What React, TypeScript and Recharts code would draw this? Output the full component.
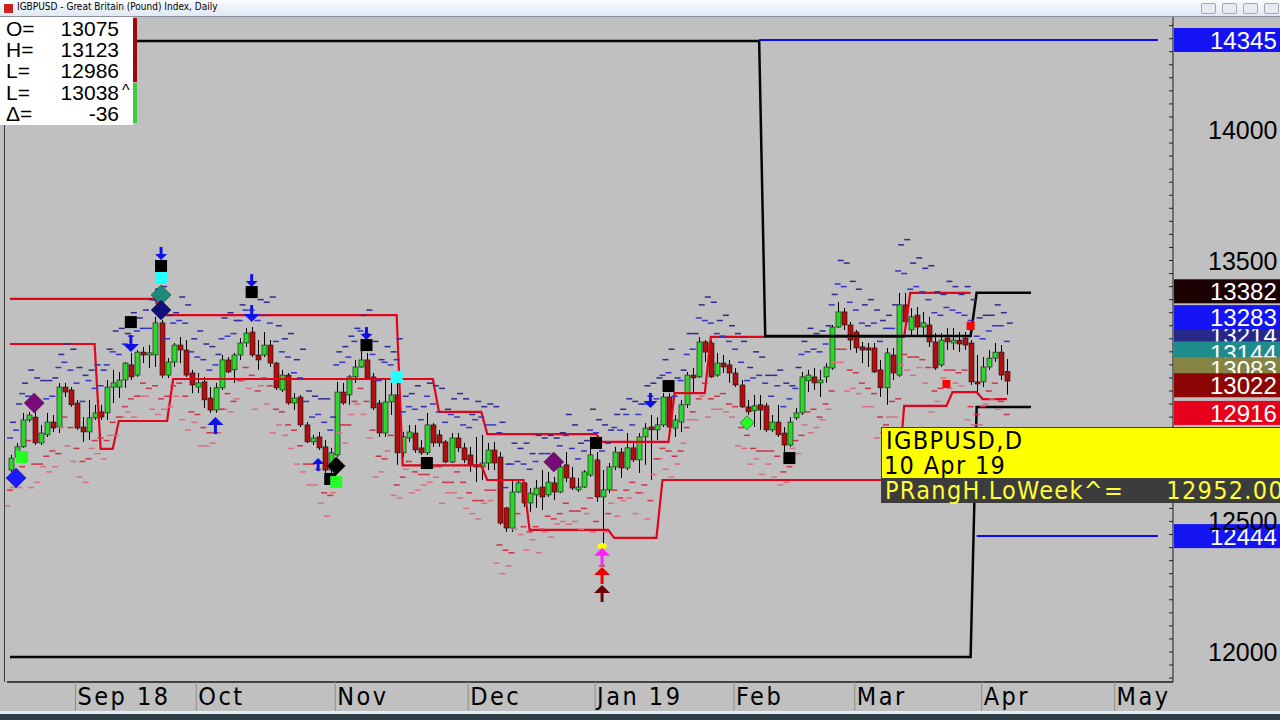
import React from 'react';
import { ComposedChart, Bar, Line, XAxis, YAxis, ReferenceDot, ReferenceLine } from 'recharts';

// trading days on the category axis, grouped by month
const monthDays: [string, number[]][] = [
  ['2018-08', [17, 20, 21, 22, 23, 24, 27, 28, 29, 30, 31]],
  ['2018-09', [3, 4, 5, 6, 7, 10, 11, 12, 13, 14, 17, 18, 19, 20, 21, 24, 25, 26, 27, 28]],
  ['2018-10', [1, 2, 3, 4, 5, 8, 9, 10, 11, 12, 15, 16, 17, 18, 19, 22, 23, 24, 25, 26, 29, 30, 31]],
  ['2018-11', [1, 2, 5, 6, 7, 8, 9, 12, 13, 14, 15, 16, 19, 20, 21, 22, 23, 26, 27, 28, 29, 30]],
  ['2018-12', [3, 4, 5, 6, 7, 10, 11, 12, 13, 14, 17, 18, 19, 20, 21, 24, 25, 26, 27, 28, 31]],
  ['2019-01', [1, 2, 3, 4, 7, 8, 9, 10, 11, 14, 15, 16, 17, 18, 21, 22, 23, 24, 25, 28, 29, 30, 31]],
  ['2019-02', [1, 4, 5, 6, 7, 8, 11, 12, 13, 14, 15, 18, 19, 20, 21, 22, 25, 26, 27, 28]],
  ['2019-03', [1, 4, 5, 6, 7, 8, 11, 12, 13, 14, 15, 18, 19, 20, 21, 22, 25, 26, 27, 28, 29]],
  ['2019-04', [1, 2, 3, 4, 5, 8, 9, 10, 11, 12, 15, 16, 17, 18, 19, 22, 23, 24, 25, 26, 29, 30]],
  ['2019-05', [1, 2, 3, 6, 7, 8, 9, 10, 13, 14]],
];

const monthTicks = ['2018-09-03', '2018-10-01', '2018-11-01', '2018-12-03', '2019-01-01', '2019-02-01', '2019-03-01', '2019-04-01', '2019-05-01'];
const monthLabels = ['Sep 18', 'Oct', 'Nov', 'Dec', 'Jan 19', 'Feb', 'Mar', 'Apr', 'May'];
const priceLabels = [12000, 12500, 13500, 14000];

// daily candles (price x 10000), first bar 17 Aug 2018
const opens = [
  12697, 12747, 12786, 12889, 12900, 12801, 12832, 12881, 12862, 13015,
  13004, 12954, 12862, 12843, 12897, 12920, 12916, 13015, 13015, 13042,
  13100, 13061, 13149, 13138, 13138, 13261, 13061, 13111, 13176, 13157,
  13069, 13015, 13035, 12973, 12927, 13012, 13119, 13081, 13138, 13184,
  13226, 13138, 13138, 13176, 13107, 13004, 13061, 12954, 12977, 12870,
  12805, 12824, 12786, 12697, 12755, 12996, 12985, 13054, 13092, 13119,
  13054, 12954, 12839, 12958, 12985, 12763, 12820, 12839, 12782, 12763,
  12870, 12832, 12805, 12728, 12820, 12782, 12755, 12717, 12709, 12724,
  12774, 12747, 12552, 12475, 12613, 12648, 12571, 12602, 12632, 12602,
  12648, 12613, 12717, 12667, 12621, 12632, 12678, 12736, 12594, 12621,
  12709, 12766, 12705, 12782, 12736, 12824, 12862, 12851, 12870, 12977,
  12858, 12881, 12947, 13061, 13054, 13188, 13184, 13061, 13107, 13100,
  13069, 13023, 12939, 12924, 12947, 12943, 12851, 12881, 12839, 12793,
  12897, 12916, 13039, 13054, 13031, 13054, 13088, 13245, 13303, 13253,
  13226, 13169, 13165, 13165, 13081, 13012, 13138, 13061, 13330, 13234,
  13291, 13245, 13253, 13188, 13100, 13203, 13184, 13195, 13203, 13184,
  13035, 13035, 13092, 13126, 13149, 13075,
];
const highs = [
  12755, 12801, 12916, 12920, 12920, 12870, 12916, 12908, 13031, 13031,
  13015, 12966, 12900, 12966, 12947, 12947, 13042, 13081, 13073, 13111,
  13146, 13157, 13169, 13176, 13284, 13272, 13126, 13184, 13207, 13195,
  13081, 13069, 13054, 13015, 13031, 13138, 13130, 13146, 13203, 13241,
  13245, 13195, 13226, 13195, 13111, 13081, 13069, 12992, 12985, 12881,
  12832, 12843, 12812, 12782, 13035, 13031, 13061, 13119, 13157, 13146,
  13069, 12966, 13042, 13035, 13042, 12843, 12870, 12870, 12812, 12916,
  12877, 12851, 12812, 12839, 12839, 12801, 12786, 12824, 12832, 12801,
  12805, 12766, 12556, 12659, 12659, 12651, 12628, 12659, 12697, 12690,
  12671, 12717, 12766, 12709, 12667, 12697, 12782, 12766, 12697, 12724,
  12786, 12782, 12839, 12801, 12839, 12877, 12908, 12900, 12992, 12992,
  12908, 12966, 13073, 13088, 13207, 13195, 13195, 13146, 13138, 13119,
  13088, 13042, 12966, 12985, 12985, 12954, 12908, 12947, 12862, 12900,
  12935, 13073, 13081, 13088, 13081, 13107, 13253, 13341, 13318, 13265,
  13234, 13188, 13184, 13184, 13119, 13165, 13165, 13376, 13376, 13318,
  13322, 13303, 13284, 13222, 13222, 13241, 13241, 13226, 13226, 13195,
  13138, 13130, 13157, 13184, 13176, 13123,
];
const lows = [
  12690, 12736, 12782, 12881, 12793, 12793, 12824, 12843, 12839, 12977,
  12939, 12851, 12805, 12812, 12889, 12889, 12889, 12954, 12973, 13012,
  13042, 13054, 13107, 13088, 13092, 13050, 13050, 13092, 13107, 13054,
  12992, 12992, 12935, 12916, 12916, 13004, 13069, 13031, 13119, 13169,
  13130, 13081, 13130, 13092, 13004, 12996, 12947, 12927, 12862, 12801,
  12793, 12774, 12686, 12678, 12747, 12947, 12947, 13031, 13088, 13042,
  12927, 12824, 12824, 12908, 12717, 12747, 12805, 12763, 12755, 12755,
  12786, 12786, 12724, 12724, 12766, 12724, 12690, 12651, 12659, 12697,
  12697, 12487, 12460, 12460, 12609, 12556, 12537, 12552, 12544, 12594,
  12583, 12609, 12651, 12621, 12613, 12628, 12671, 12575, 12402, 12609,
  12697, 12667, 12697, 12728, 12686, 12717, 12659, 12812, 12862, 12843,
  12824, 12843, 12935, 12996, 13050, 13111, 13050, 13054, 13069, 13031,
  13015, 12935, 12908, 12862, 12851, 12843, 12843, 12824, 12766, 12786,
  12889, 12908, 12996, 13004, 12977, 13031, 13081, 13241, 13234, 13157,
  13146, 13107, 13092, 13069, 12977, 12947, 13042, 13054, 13222, 13207,
  13207, 13207, 13169, 13081, 13092, 13157, 13157, 13149, 13157, 13023,
  12985, 13015, 13081, 13111, 13042, 12986,
];
const closes = [
  12743, 12786, 12889, 12908, 12801, 12839, 12881, 12858, 13015, 12996,
  12947, 12858, 12843, 12897, 12916, 12900, 13015, 13031, 13042, 13107,
  13054, 13149, 13138, 13146, 13261, 13061, 13111, 13176, 13157, 13061,
  13023, 13031, 12966, 12927, 13012, 13119, 13073, 13138, 13184, 13222,
  13138, 13119, 13176, 13107, 13012, 13061, 12954, 12973, 12870, 12805,
  12820, 12782, 12697, 12763, 12996, 12954, 13054, 13092, 13119, 13050,
  12935, 12839, 12958, 12985, 12763, 12824, 12843, 12774, 12763, 12870,
  12801, 12801, 12728, 12820, 12782, 12736, 12717, 12709, 12724, 12774,
  12724, 12494, 12475, 12613, 12648, 12571, 12609, 12628, 12594, 12651,
  12613, 12709, 12667, 12628, 12632, 12690, 12755, 12594, 12621, 12709,
  12766, 12705, 12782, 12736, 12824, 12858, 12851, 12870, 12977, 12862,
  12889, 12947, 13061, 13050, 13188, 13149, 13054, 13107, 13092, 13069,
  13023, 12939, 12920, 12943, 12927, 12851, 12881, 12832, 12793, 12881,
  12916, 13054, 13061, 13031, 13042, 13092, 13245, 13303, 13253, 13195,
  13165, 13157, 13157, 13073, 13012, 13146, 13069, 13330, 13265, 13284,
  13245, 13261, 13188, 13088, 13195, 13188, 13195, 13180, 13176, 13035,
  13027, 13092, 13126, 13149, 13061, 13038,
];

// projected range dashes: near and far above (blue, navy), near and far below (red, pink)
const dashHigh = [
  12820, 12850, 12990, 12980, 12970, 12950, 12970, 12980, 13090, 13110,
  13080, 13030, 12960, 13040, 13010, 13020, 13100, 13150, 13140, 13180,
  13210, 13230, 13240, 13240, 13350, 13340, 13200, 13260, 13270, 13260,
  13150, 13130, 13120, 13080, 13100, 13200, 13210, 13220, 13270, 13310,
  13310, 13270, 13290, 13260, 13190, 13150, 13130, 13070, 13050, 12960,
  12900, 12910, 12880, 12850, 13100, 13110, 13130, 13190, 13230, 13220,
  13140, 13040, 13110, 13100, 13120, 12920, 12940, 12930, 12890, 12980,
  12950, 12920, 12880, 12910, 12900, 12870, 12860, 12890, 12900, 12870,
  12870, 12840, 12630, 12720, 12730, 12720, 12700, 12730, 12760, 12760,
  12740, 12790, 12830, 12780, 12740, 12770, 12850, 12840, 12770, 12800,
  12860, 12850, 12910, 12870, 12910, 12950, 12980, 12970, 13060, 13070,
  12980, 13040, 13140, 13160, 13280, 13270, 13260, 13220, 13210, 13190,
  13160, 13110, 13040, 13050, 13060, 13030, 12980, 13020, 12940, 12970,
  13010, 13140, 13150, 13160, 13150, 13180, 13330, 13410, 13400, 13340,
  13310, 13260, 13250, 13260, 13190, 13240, 13240, 13460, 13450, 13390,
  13400, 13380, 13350, 13300, 13290, 13320, 13310, 13300, 13290, 13270,
  13210, 13200, 13230, 13250, 13250, 13190,
];
const dashHighFar = [
  12880, 12950, 13030, 13080, 13050, 13040, 13040, 13050, 13140, 13180,
  13160, 13090, 13060, 13080, 13100, 13080, 13160, 13230, 13240, 13220,
  13300, 13280, 13310, 13350, 13390, 13400, 13290, 13300, 13360, 13330,
  13200, 13230, 13180, 13170, 13140, 13280, 13300, 13270, 13330, 13390,
  13380, 13350, 13340, 13360, 13250, 13200, 13220, 13120, 13160, 13000,
  12980, 12970, 12970, 12900, 13150, 13170, 13210, 13240, 13290, 13310,
  13190, 13120, 13170, 13150, 13200, 12980, 12990, 13020, 12940, 13030,
  13020, 13010, 12930, 12970, 12990, 12970, 12910, 12960, 12940, 12950,
  12940, 12880, 12720, 12800, 12780, 12800, 12760, 12830, 12820, 12830,
  12820, 12840, 12910, 12870, 12800, 12810, 12930, 12890, 12870, 12850,
  12910, 12930, 12970, 12960, 12950, 13020, 13030, 13050, 13120, 13160,
  13050, 13080, 13220, 13220, 13330, 13360, 13340, 13270, 13290, 13250,
  13220, 13190, 13090, 13150, 13130, 13060, 13060, 13080, 13030, 13020,
  13090, 13190, 13240, 13220, 13230, 13250, 13370, 13500, 13490, 13420,
  13390, 13330, 13350, 13310, 13270, 13290, 13330, 13560, 13580, 13490,
  13510, 13470, 13480, 13380, 13370, 13420, 13400, 13370, 13400, 13350,
  13280, 13290, 13290, 13330, 13300, 13260,
];
const dashLow = [
  12620, 12660, 12710, 12810, 12720, 12720, 12750, 12770, 12760, 12900,
  12860, 12780, 12730, 12740, 12810, 12820, 12810, 12880, 12900, 12940,
  12970, 12980, 13030, 13010, 13020, 12970, 12980, 13020, 13030, 12980,
  12920, 12910, 12860, 12840, 12840, 12930, 12990, 12960, 13040, 13090,
  13060, 13000, 13050, 13020, 12930, 12920, 12870, 12850, 12790, 12720,
  12720, 12700, 12610, 12600, 12670, 12870, 12870, 12960, 13010, 12960,
  12850, 12750, 12740, 12830, 12640, 12670, 12730, 12690, 12680, 12680,
  12710, 12710, 12650, 12650, 12690, 12650, 12610, 12580, 12580, 12620,
  12620, 12410, 12390, 12380, 12530, 12480, 12460, 12480, 12470, 12520,
  12510, 12530, 12570, 12540, 12540, 12550, 12590, 12500, 12330, 12530,
  12620, 12590, 12620, 12650, 12610, 12640, 12580, 12740, 12780, 12770,
  12750, 12770, 12860, 12920, 12970, 13030, 12970, 12980, 12990, 12950,
  12940, 12860, 12830, 12780, 12770, 12770, 12770, 12750, 12690, 12710,
  12810, 12830, 12920, 12930, 12900, 12950, 13000, 13160, 13160, 13080,
  13070, 13030, 13010, 12990, 12900, 12870, 12960, 12970, 13140, 13130,
  13130, 13120, 13090, 13000, 13010, 13080, 13080, 13070, 13080, 12940,
  12910, 12940, 13000, 13030, 12960, 12910,
];
const dashLowFar = [
  12560, 12630, 12630, 12760, 12630, 12650, 12710, 12690, 12710, 12860,
  12790, 12730, 12670, 12650, 12780, 12760, 12740, 12830, 12830, 12900,
  12920, 12900, 12980, 12980, 12930, 12910, 12930, 12940, 12980, 12890,
  12850, 12880, 12790, 12790, 12800, 12840, 12930, 12920, 12970, 13040,
  13010, 12930, 13020, 12950, 12840, 12870, 12830, 12780, 12720, 12690,
  12640, 12640, 12570, 12520, 12610, 12840, 12800, 12910, 12950, 12910,
  12820, 12670, 12690, 12770, 12600, 12590, 12700, 12610, 12620, 12640,
  12650, 12670, 12570, 12610, 12610, 12590, 12550, 12530, 12510, 12570,
  12580, 12340, 12300, 12330, 12470, 12450, 12390, 12430, 12380, 12460,
  12440, 12490, 12500, 12490, 12500, 12470, 12530, 12460, 12300, 12460,
  12570, 12520, 12580, 12590, 12530, 12610, 12510, 12680, 12740, 12700,
  12670, 12720, 12800, 12890, 12890, 12980, 12900, 12930, 12930, 12920,
  12900, 12790, 12780, 12720, 12740, 12680, 12720, 12670, 12640, 12650,
  12780, 12760, 12870, 12840, 12860, 12890, 12930, 13110, 13110, 13000,
  13010, 12990, 12940, 12940, 12820, 12840, 12900, 12900, 13100, 13080,
  13060, 13090, 13030, 12920, 12960, 13050, 13010, 13030, 13020, 12890,
  12870, 12870, 12950, 12970, 12930, 12840,
];

// step levels: [first bar, last bar, price]
const redUpperSteps = [[0, 24, 13353], [25, 64, 13291], [65, 78, 12715], [79, 85, 12659], [86, 99, 12468], [100, 107, 12437], [108, 147, 12659], [148, 155, 12943], [156, 160, 12996], [161, 165, 12969]];
const redLowerSteps = [[0, 14, 13180], [15, 17, 12778], [18, 26, 12885], [27, 70, 13046], [71, 78, 12920], [79, 97, 12835], [98, 109, 12805], [110, 115, 12992], [116, 148, 13207], [149, 159, 13376]];
const blackTopSteps = [[0, 124, 14341], [125, 159, 13211], [160, 169, 13376]];
const blackLowSteps = [[0, 159, 11981], [160, 169, 12939]];
const blueTopSteps = [[124, 190, 14345]];
const blueLowSteps = [[160, 190, 12444]];

// right-hand price tags, in drawing order
const tagValues = [13382, 13214, 13283, 13144, 13083, 13022, 12916, 14345, 12444];
const tagColors = ['#1c0202', '#26288a', '#1414f4', '#1f8c8c', '#858444', '#8c0606', '#e6001c', '#1212f2', '#1414f0'];

// signal markers: [bar, price, kind, colour, size]
const markers: [number, number, string, string, number][] = [
  [1, 12667, 'dia', '#1a1aff', 10],
  [2, 12747, 'sq', '#22ff22', 6],
  [4, 12954, 'dia', '#7a0a7a', 10],
  [20, 13264, 'sq', '#000000', 6],
  [20, 13149, 'down', '#1010e8', 8],
  [25, 13502, 'down', '#1010e8', 6],
  [25, 13479, 'sq', '#000000', 6],
  [25, 13433, 'sq', '#22ffff', 6],
  [25, 13368, 'dia', '#1a8a7a', 10],
  [25, 13310, 'dia', '#10107a', 10],
  [34, 12900, 'up', '#1010e8', 8],
  [40, 13398, 'down', '#1010e8', 6],
  [40, 13379, 'sq', '#000000', 6],
  [40, 13264, 'down', '#1010e8', 8],
  [51, 12743, 'up', '#1010e8', 6],
  [53, 12663, 'sq', '#000000', 6],
  [54, 12651, 'sq', '#22ff22', 6],
  [54, 12713, 'dia', '#000000', 9],
  [59, 13195, 'down', '#1010e8', 6],
  [59, 13176, 'sq', '#000000', 6],
  [64, 13054, 'sq', '#22ffff', 6],
  [69, 12724, 'sq', '#000000', 6],
  [90, 12728, 'dia', '#7a0a7a', 10],
  [97, 12801, 'sq', '#000000', 6],
  [98, 12406, 'dot', '#ffff00', 3],
  [98, 12399, 'up', '#ff22ff', 8],
  [98, 12326, 'up', '#ee0000', 8],
  [98, 12257, 'up', '#6a0000', 8],
  [106, 12935, 'down', '#1010e8', 7],
  [109, 13019, 'sq', '#000000', 6],
  [122, 12878, 'dia', '#22ff22', 7],
  [129, 12743, 'sq', '#000000', 6],
  [155, 13027, 'sq', '#ff0000', 4],
  [159, 13249, 'sq', '#ff0000', 4],
];

const dates = monthDays.flatMap(([ym, ds]) => ds.map((d) => `${ym}-${String(d).padStart(2, '0')}`));

const fromSteps = (steps: number[][]) => {
  const out: (number | null)[] = dates.map(() => null);
  steps.forEach(([a, b, v]) => {
    for (let k = a; k <= b; k++) out[k] = v;
  });
  return out;
};

const redUpper = fromSteps(redUpperSteps);
const redLower = fromSteps(redLowerSteps);
const blackTop = fromSteps(blackTopSteps);
const blackLow = fromSteps(blackLowSteps);
const blueTop = fromSteps(blueTopSteps);
const blueLow = fromSteps(blueLowSteps);

const rows = dates.map((d, i) => ({
  d,
  o: opens[i],
  h: highs[i],
  l: lows[i],
  c: closes[i],
  dashHigh: dashHigh[i] ?? null,
  dashHighFar: dashHighFar[i] ?? null,
  dashLow: dashLow[i] ?? null,
  dashLowFar: dashLowFar[i] ?? null,
  redUpper: redUpper[i],
  redLower: redLower[i],
  blackTop: blackTop[i],
  blackLow: blackLow[i],
  blueTop: blueTop[i],
  blueLow: blueLow[i],
}));

const PLOT_RIGHT = 1173;
const SANS = "'Liberation Sans', Arial, sans-serif";
const NARROW = "'Liberation Sans Narrow', 'DejaVu Sans Condensed', sans-serif";

const Candle = (props: any) => {
  const { x, y, width, height, payload } = props;
  if (!payload || payload.h == null) return null;
  const { o, h, l, c } = payload;
  const top = Math.min(y, y + height);
  const span = Math.abs(height);
  const at = (v: number) => top + ((h - v) / (h - l || 1)) * span;
  const cx = Math.round(x + width / 2) + 0.5;
  const yo = at(o);
  const yc = at(c);
  const bt = Math.min(yo, yc);
  const bh = Math.max(1.5, Math.abs(yo - yc));
  return (
    <g>
      <line x1={cx} x2={cx} y1={top} y2={top + span} stroke="#000" strokeWidth={1} />
      <rect x={cx - 2.5} y={bt} width={5} height={bh} fill={c >= o ? '#2cd62c' : '#b20e0e'} stroke="#111" strokeWidth={0.6} />
    </g>
  );
};

const dash = (color: string, shift: number) => (p: any) => {
  if (p.cy == null || p.value == null) return <g key={p.key ?? p.index} />;
  return <rect key={p.key ?? p.index} x={p.cx - 3 + shift} y={p.cy - 0.75} width={6} height={1.5} fill={color} />;
};

const Mark = ({ cx, cy, m }: any) => {
  const [, , kind, color, s] = m;
  if (kind === 'dia') {
    return <polygon points={`${cx},${cy - s} ${cx + s},${cy} ${cx},${cy + s} ${cx - s},${cy}`} fill={color} stroke="#222" strokeWidth={0.5} />;
  }
  if (kind === 'sq') {
    return <rect x={cx - s} y={cy - s} width={s * 2} height={s * 2} fill={color} />;
  }
  if (kind === 'dot') {
    return <ellipse cx={cx} cy={cy} rx={s + 2} ry={s} fill={color} />;
  }
  const dir = kind === 'down' ? -1 : 1;
  return (
    <g fill={color}>
      <polygon points={`${cx - s},${cy + dir * s} ${cx + s},${cy + dir * s} ${cx},${cy}`} />
      <rect x={cx - 1.5} y={dir > 0 ? cy + s - 1 : cy - s * 2 - 1} width={3} height={s + 2} />
    </g>
  );
};

const PriceTick = ({ y, payload }: any) => (
  <g>
    <line x1={PLOT_RIGHT - 4} x2={PLOT_RIGHT} y1={y} y2={y} stroke="#222" strokeWidth={1} />
    {priceLabels.includes(payload.value) && (
      <text x={1208} y={y + 9} fontSize={25} fontFamily={SANS} fill="#000">
        {payload.value}
      </text>
    )}
  </g>
);

const MonthTick = ({ x, y, payload }: any) => {
  const label = monthLabels[monthTicks.indexOf(payload.value)];
  return (
    <g>
      <line x1={x - 1} x2={x - 1} y1={y} y2={y + 30} stroke="#8e8e8e" strokeWidth={1} />
      <text x={x + 1} y={y + 23} fontSize={25} fontFamily={NARROW} letterSpacing={2.5} fill="#000">
        {label}
      </text>
    </g>
  );
};

const PriceTag = ({ viewBox, value, color }: any) => {
  const y = viewBox ? viewBox.y : 0;
  return (
    <g>
      <rect x={PLOT_RIGHT + 1} y={y - 12} width={110} height={24} fill={color} />
      <text x={1210} y={y + 9} fontSize={24} fontFamily={SANS} fill="#fff">
        {value}
      </text>
    </g>
  );
};

const minorTicks: number[] = [];
for (let v = 11900; v <= 14400; v += 50) minorTicks.push(v);

const ohlcLines = [
  ['O=', '13075', ''],
  ['H=', '13123', ''],
  ['L=', '12986', ''],
  ['L=', '13038', '^'],
  ['\u0394=', '-36', ''],
];

const tipText = { position: 'absolute' as const, fontSize: 25, lineHeight: '25px', fontFamily: NARROW, letterSpacing: 1.3, whiteSpace: 'pre' as const };

export default function App() {
  return (
    <div style={{ position: 'absolute', left: 0, top: 0, width: 1280, height: 720, background: '#c0c0c0', overflow: 'hidden' }}>
      {/* window title bar */}
      <div style={{ position: 'absolute', left: 0, top: 0, width: 1280, height: 16, background: 'linear-gradient(#fbfdff, #dfe8f3)', borderBottom: '1px solid #8a9099' }}>
        <div style={{ position: 'absolute', left: 3, top: 3, width: 9, height: 9, background: '#d02020', border: '1px solid #fff' }} />
        <div style={{ position: 'absolute', left: 17, top: 1, fontSize: 10, fontFamily: NARROW, color: '#000' }}>
          IGBPUSD - Great Britain (Pound) Index, Daily
        </div>
        {[1201, 1222, 1243, 1264].map((bx) => (
          <div key={bx} style={{ position: 'absolute', left: bx, top: 3, width: 13, height: 9, background: '#e8ecf2', border: '1px solid #a0a8b4', borderRadius: 2 }} />
        ))}
      </div>

      <div style={{ position: 'absolute', left: 0, top: 17 }}>
        <ComposedChart width={1280} height={695} data={rows} margin={{ top: 0, right: 0, bottom: 0, left: 7 }} barCategoryGap={1}>
          <XAxis
            dataKey="d"
            type="category"
            ticks={monthTicks}
            interval={0}
            tickSize={0}
            tickMargin={0}
            tick={MonthTick}
            height={30}
            axisLine={{ stroke: '#1a1a1a', strokeWidth: 1.5 }}
          />
          <YAxis
            orientation="right"
            type="number"
            domain={[11885, 14433]}
            allowDataOverflow
            ticks={minorTicks}
            interval={0}
            tickSize={0}
            tickMargin={0}
            tick={PriceTick}
            width={107}
            axisLine={{ stroke: '#1a1a1a', strokeWidth: 1 }}
          />
          <Line dataKey="dashHighFar" stroke="none" dot={dash('#2c2c90', 3)} activeDot={false} isAnimationActive={false} />
          <Line dataKey="dashLowFar" stroke="none" dot={dash('#d8707e', -3)} activeDot={false} isAnimationActive={false} />
          <Line dataKey="dashHigh" stroke="none" dot={dash('#3434c8', 0)} activeDot={false} isAnimationActive={false} />
          <Line dataKey="dashLow" stroke="none" dot={dash('#cc3448', 0)} activeDot={false} isAnimationActive={false} />
          <Bar dataKey={(r: any) => (r.h == null ? null : [r.l, r.h])} barSize={5} shape={Candle} isAnimationActive={false} />
          <Line dataKey="redUpper" stroke="#e0041c" strokeWidth={2.2} dot={false} isAnimationActive={false} />
          <Line dataKey="redLower" stroke="#e0041c" strokeWidth={2.2} dot={false} isAnimationActive={false} />
          <Line dataKey="blackLow" stroke="#050505" strokeWidth={2.5} dot={false} isAnimationActive={false} />
          <Line dataKey="blueTop" stroke="#0a0aff" strokeWidth={2} dot={false} isAnimationActive={false} />
          <Line dataKey="blueLow" stroke="#0a0aff" strokeWidth={2} dot={false} isAnimationActive={false} />
          <Line dataKey="blackTop" stroke="#050505" strokeWidth={2.5} dot={false} isAnimationActive={false} />
          {markers.map((m, k) => (
            <ReferenceDot key={k} x={dates[m[0]]} y={m[1]} shape={(p: any) => <Mark {...p} m={m} />} />
          ))}
          {tagValues.map((v, k) => (
            <ReferenceLine key={`t${k}`} y={v} stroke="none" label={(p: any) => <PriceTag {...p} value={v} color={tagColors[k]} />} />
          ))}
        </ComposedChart>
      </div>

      {/* left frame line */}
      <div style={{ position: 'absolute', left: 4, top: 17, width: 1, height: 665, background: '#3a3a3a' }} />

      {/* OHLC readout */}
      <div style={{ position: 'absolute', left: 0, top: 17, width: 133, height: 108, background: '#fff' }}>
        {ohlcLines.map(([k, v, s], n) => (
          <div key={n} style={{ position: 'absolute', left: 6, top: 1 + n * 21.2, width: 127, height: 21, fontSize: 21, lineHeight: '21px', fontFamily: SANS, color: '#000' }}>
            <span>{k}</span>
            <span style={{ position: 'absolute', right: 14, top: 0 }}>{v}</span>
            <span style={{ position: 'absolute', left: 116, top: -2, fontSize: 16 }}>{s}</span>
          </div>
        ))}
      </div>
      <div style={{ position: 'absolute', left: 133, top: 18, width: 4, height: 64, background: '#a00808' }} />
      <div style={{ position: 'absolute', left: 133, top: 83, width: 4, height: 40, background: '#3ccc3c' }} />

      {/* hover readout */}
      <div style={{ position: 'absolute', left: 881, top: 427, width: 400, height: 50, background: '#ffff00', borderLeft: '1px solid #404040', borderTop: '1px solid #404040' }}>
        <div style={{ ...tipText, left: 4, top: 0, color: '#000' }}>IGBPUSD,D</div>
        <div style={{ ...tipText, left: 2, top: 25, color: '#000' }}>10 Apr 19</div>
      </div>
      <div style={{ position: 'absolute', left: 881, top: 478, width: 400, height: 25, background: '#3c3c3c', borderLeft: '1px solid #404040' }}>
        <div style={{ ...tipText, left: 3, top: 0, color: '#ffff33' }}>{'PRangH.LoWeek^=     12952.00'}</div>
      </div>

      {/* bottom window edge */}
      <div style={{ position: 'absolute', left: 0, top: 711, width: 1280, height: 3, background: '#e4eef2' }} />
      <div style={{ position: 'absolute', left: 0, top: 714, width: 1280, height: 6, background: '#2e3e46' }} />
    </div>
  );
}
